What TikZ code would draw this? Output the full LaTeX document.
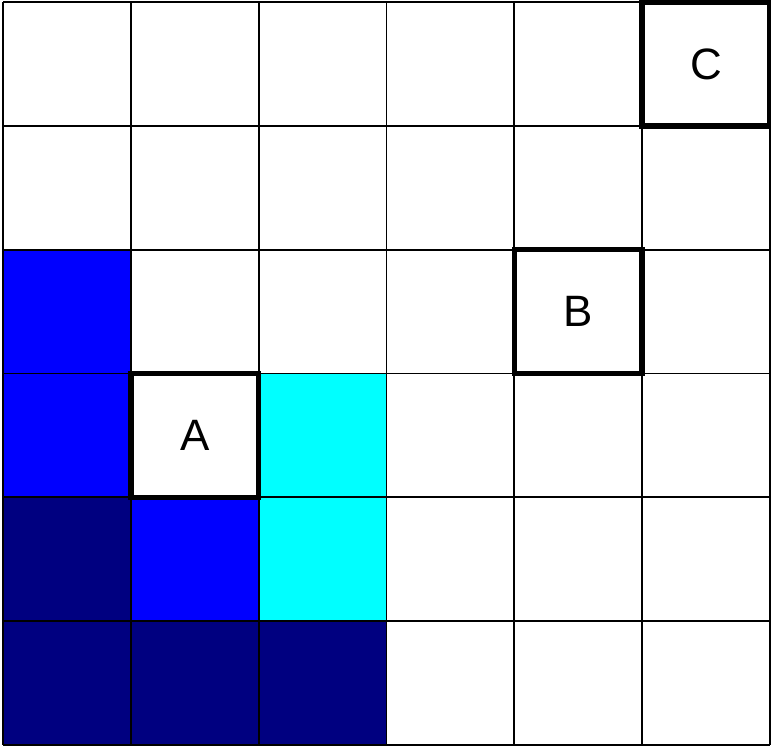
\documentclass[tikz,border=0pt]{standalone}
\usepackage{fontspec}
\setmainfont{Liberation Sans}
\usetikzlibrary{positioning}
\definecolor{navycell}{RGB}{0,0,128}
\definecolor{bluecell}{RGB}{0,0,255}
\definecolor{cyancell}{RGB}{0,255,255}

\begin{document}
\begin{tikzpicture}[x=0.02cm, y=-0.02cm,
  gridline/.style={line width=0.036cm, draw=black},
  markcell/.style={draw=black, line width=0.11cm, fill=white,
    minimum width=2.5566cm, minimum height=2.4766cm, inner sep=0pt,
    font=\fontsize{25}{29}\selectfont}]
  \def\cw{127.83}  % cell width
  \def\ch{123.83}  % cell height
  \useasboundingbox (0,0) rectangle (771,746);

  % Coloured cells: column/row/colour
  \foreach \c/\r/\shade in {0/2/bluecell, 0/3/bluecell, 2/3/cyancell,
      0/4/navycell, 1/4/bluecell, 2/4/cyancell,
      0/5/navycell, 1/5/navycell, 2/5/navycell}
    \fill[\shade] ({3+\c*\cw},{2+\r*\ch}) rectangle ++(\cw,\ch);

  % Grid lines
  \foreach \i in {0,...,6} {
    \draw[gridline] ({3+\i*\cw},2) -- ({3+\i*\cw},{2+6*\ch});
    \draw[gridline] (3,{2+\i*\ch}) -- ({3+6*\cw},{2+\i*\ch});
  }

  % Marked cells
  \node[markcell] (A) at ({3+1.5*\cw},{2+3.5*\ch}) {A};
  \node[markcell] (B) at ({3+4.5*\cw},{2+2.5*\ch}) {B};
  \node[markcell] (C) at ({3+5.5*\cw},{2+0.5*\ch}) {C};
\end{tikzpicture}
\end{document}
